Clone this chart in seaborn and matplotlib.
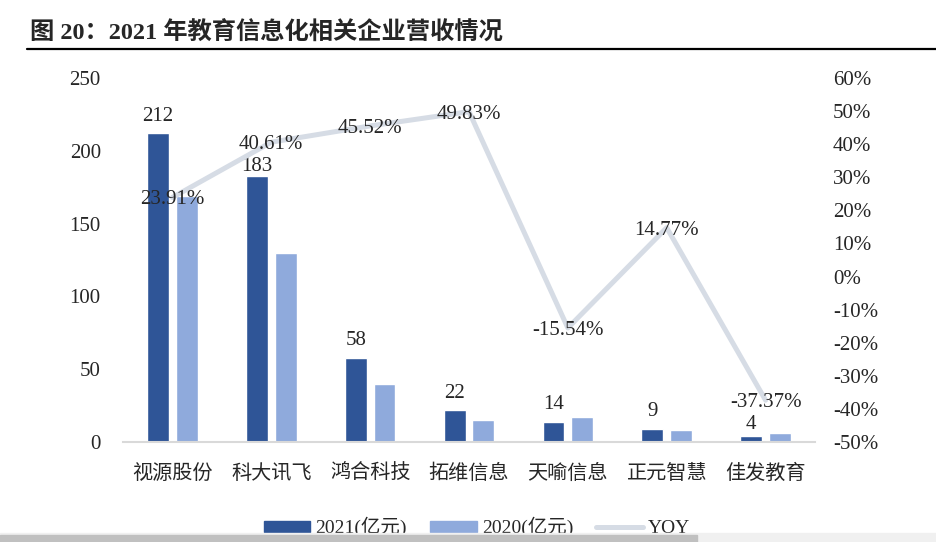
import numpy as np
import pandas as pd
import matplotlib.pyplot as plt
import matplotlib.patches as mpatches
from matplotlib.lines import Line2D
import seaborn as sns

companies = ["视源股份", "科大讯飞", "鸿合科技", "拓维信息", "天喻信息", "正元智慧", "佳发教育"]
rev_2021 = [212, 183, 58, 22, 14, 9, 4]
rev_2020 = [169, 130, 40, 15, 17, 8, 6]
yoy = [23.91, 40.61, 45.52, 49.83, -15.54, 14.77, -37.37]
series_names = ["2021(亿元)", "2020(亿元)"]

sns.set_style("white")
plt.rcParams["font.family"] = ["Liberation Serif", "Noto Sans CJK SC", "DejaVu Sans"]

dark = "#2f5597"
light = "#8faadc"
line_c = "#d6dce5"
fs = 15

df = pd.DataFrame({
    "company": companies * 2,
    "value": rev_2021 + rev_2020,
    "series": [series_names[0]] * len(companies) + [series_names[1]] * len(companies),
})

fig = plt.figure(figsize=(9.36, 5.42), dpi=100)
ax = fig.add_axes([123 / 936, 1 - 442 / 542, 692 / 936, 364 / 542])

sns.barplot(data=df, x="company", y="value", hue="series", order=companies,
            hue_order=series_names, palette=[dark, light], width=0.58, gap=0.24,
            saturation=1, legend=False, ax=ax)
ax.set_ylim(0, 250)
ax.set_yticks(range(0, 251, 50))
ax.set_xlim(-0.5, len(companies) - 0.5)
ax.set_xlabel("")
ax.set_ylabel("")
for s in ["left", "right", "top"]:
    ax.spines[s].set_visible(False)
ax.spines["bottom"].set_color("#d9d9d9")
ax.spines["bottom"].set_linewidth(1.5)
ax.tick_params(axis="y", length=0, pad=16, labelsize=fs)
ax.tick_params(axis="x", length=0, pad=15)
for lab in ax.get_xticklabels():
    lab.set_fontfamily(["Noto Sans CJK SC", "DejaVu Sans"])
    lab.set_fontsize(14.5)

# labels above the 2021 bars (a couple nudged down like in the source)
nudge = {1: 8, 6: 10}
for i, v in enumerate(rev_2021):
    ax.annotate(str(v), (i - 0.145, v), xytext=(0, nudge.get(i, 14)),
                textcoords="offset points", ha="center", va="center_baseline",
                fontsize=fs)

ax2 = ax.twinx()
sns.lineplot(x=np.arange(len(companies)), y=yoy, color=line_c, linewidth=3.6,
             ax=ax2, zorder=3)
ax2.set_ylim(-50, 60)
ax2.set_yticks(range(-50, 61, 10))
ax2.set_yticklabels([f"{t}%" for t in range(-50, 61, 10)])
ax2.set_xlim(-0.5, len(companies) - 0.5)
for s in ["left", "right", "top", "bottom"]:
    ax2.spines[s].set_visible(False)
ax2.tick_params(axis="y", length=0, pad=13, labelsize=fs)
for i, v in enumerate(yoy):
    ax2.text(i, v, f"{v:.2f}%", ha="center", va="center_baseline", fontsize=fs,
             zorder=5)

# title and rule
fig.text(30 / 936, 1 - 33 / 542, "图 20：2021 年教育信息化相关企业营收情况",
         fontsize=17.5, fontweight="bold", ha="left", va="center",
         family=["Liberation Serif", "Noto Sans CJK SC"])
fig.add_artist(Line2D([27 / 936, 1], [1 - 49 / 542] * 2, color="black", lw=1.6))

handles = [mpatches.Patch(color=dark), mpatches.Patch(color=light),
           Line2D([], [], color=line_c, lw=3.6)]
fig.legend(handles, series_names + ["YOY"], loc="center", ncol=3,
           bbox_to_anchor=(477 / 936, 1 - 527 / 542), frameon=False, fontsize=14,
           handlelength=2.4, handleheight=0.5, columnspacing=1.2, handletextpad=0.25)

# page strip at the bottom
fig.add_artist(mpatches.Rectangle((0, 0), 1, 9 / 542, transform=fig.transFigure,
                                  color="#f0f0f0", zorder=10))
fig.add_artist(mpatches.Rectangle((0, 0), 697 / 936, 7 / 542, transform=fig.transFigure,
                                  color="#c0c0c0", zorder=11))

fig.savefig("out.png", dpi=100)
